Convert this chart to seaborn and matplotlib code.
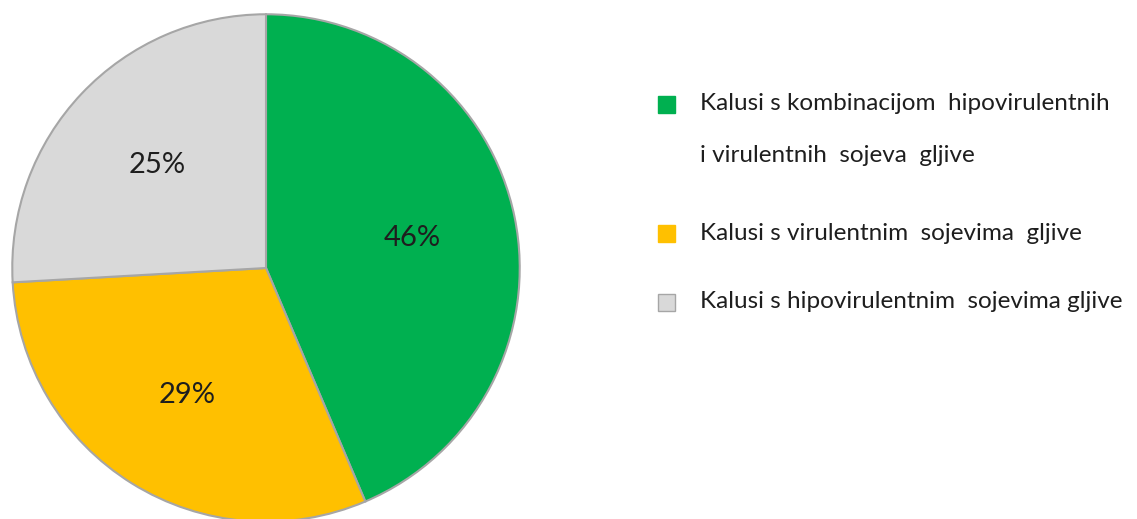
import matplotlib
matplotlib.use("Agg")
import matplotlib.pyplot as plt
from matplotlib.patches import Rectangle
import seaborn as sns

legend_lines = [
    ["Kalusi s kombinacijom  hipovirulentnih", "i virulentnih  sojeva  gljive"],
    ["Kalusi s virulentnim  sojevima  gljive"],
    ["Kalusi s hipovirulentnim  sojevima gljive"],
]
# wedge sizes as drawn in the picture; printed labels as written on it
values = [43.6, 30.5, 25.9]
pct_labels = ["46%", "29%", "25%"]
colors = ["#00b050", "#ffc000", "#d9d9d9"]

sns.set_theme(style="white")
plt.rcParams["font.family"] = ["Lato", "DejaVu Sans"]

W, H = 1137, 519
fig = plt.figure(figsize=(W / 100, H / 100), dpi=100)
fig.patch.set_facecolor("white")

cx, cy, r = 266, 268, 255
ax = fig.add_axes([(cx - r) / W, (H - cy - r) / H, 2 * r / W, 2 * r / H])
wedges, texts = ax.pie(
    values, colors=colors, startangle=90, counterclock=False, radius=1,
    labels=pct_labels, labeldistance=0.59,
    wedgeprops=dict(edgecolor="#a6a6a6", linewidth=1.5),
    textprops=dict(fontsize=21, color="#1e1e1e"),
)
for t in texts:
    t.set_horizontalalignment("center")
    t.set_verticalalignment("center")
ax.set_xlim(-1.005, 1.005)
ax.set_ylim(-1.005, 1.005)
ax.set_aspect("equal")
ax.axis("off")

# legend
sq = 17
line_y = [[104, 155], [233], [302]]
for i, (lines, ys) in enumerate(zip(legend_lines, line_y)):
    fig.patches.append(Rectangle((658 / W, (H - ys[0] - sq / 2) / H), sq / W, sq / H,
                                 transform=fig.transFigure, facecolor=colors[i],
                                 edgecolor="#a6a6a6" if i == 2 else colors[i],
                                 linewidth=1))
    for txt, y in zip(lines, ys):
        fig.text(700 / W, (H - y) / H, txt, ha="left", va="center",
                 fontsize=17.5, color="#1e1e1e")

fig.savefig("out.png", dpi=100, facecolor="white")
